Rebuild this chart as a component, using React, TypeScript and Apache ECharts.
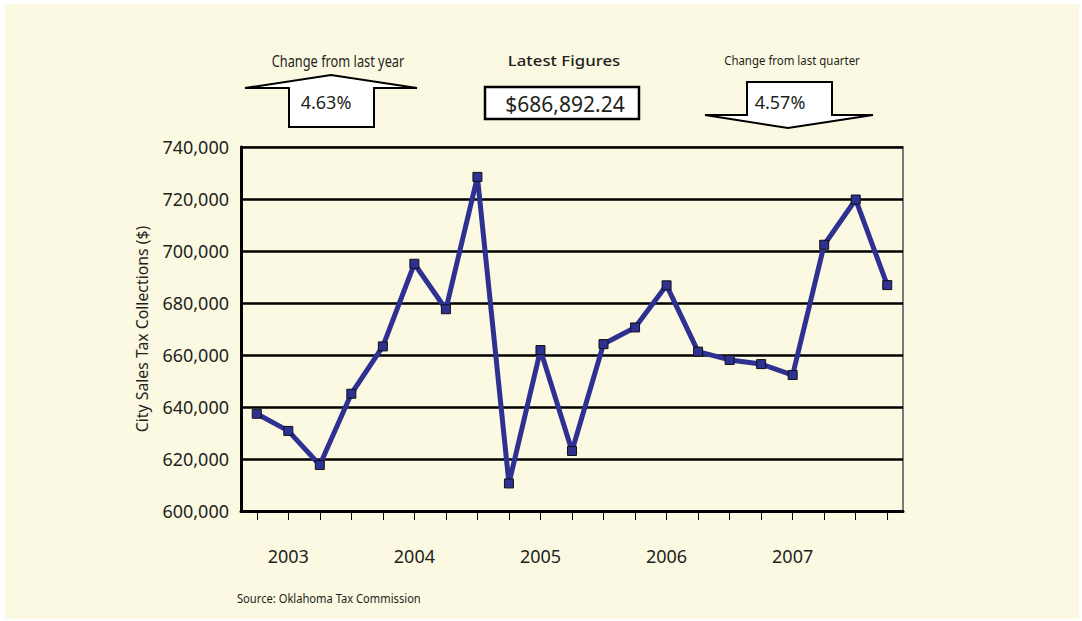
import React, { useEffect, useRef } from "react";
import * as echarts from "echarts";

const categories = [
  "2002 Q4",
  "2003 Q1", "2003 Q2", "2003 Q3", "2003 Q4",
  "2004 Q1", "2004 Q2", "2004 Q3", "2004 Q4",
  "2005 Q1", "2005 Q2", "2005 Q3", "2005 Q4",
  "2006 Q1", "2006 Q2", "2006 Q3", "2006 Q4",
  "2007 Q1", "2007 Q2", "2007 Q3", "2007 Q4",
];
const collections = [
  637400, 630800, 617700, 645100, 663300, 695100, 677600, 728500, 610600, 661900,
  623100, 664200, 670600, 686800, 661300, 658100, 656500, 652300, 702400, 719800,
  686892.24,
];
const yTicks = { min: 600000, max: 740000, interval: 20000 };
const yAxisTitle = "City Sales Tax Collections ($)";
const sourceText = "Source: Oklahoma Tax Commission";
const yearChangeLabel = "Change from last year";
const yearChangeValue = "4.63%";
const latestLabel = "Latest Figures";
const latestValue = "$686,892.24";
const quarterChangeLabel = "Change from last quarter";
const quarterChangeValue = "4.57%";

const CREAM = "#fcf9e2";
const INK = "#231f20";
const FONT = "Noto Sans";

export default function App() {
  const ref = useRef<HTMLDivElement>(null);
  useEffect(() => {
    if (!ref.current) return;
    const chart = echarts.init(ref.current, null, { renderer: "svg" });
    chart.setOption({
      animation: false,
      backgroundColor: "transparent",
      grid: {
        left: 241,
        right: 179,
        top: 147,
        bottom: 110,
        show: true,
        borderColor: "#7a7a7a",
        borderWidth: 2,
        backgroundColor: "transparent",
      },
      xAxis: {
        type: "category",
        data: categories,
        boundaryGap: true,
        axisLine: { show: true, lineStyle: { color: "#000", width: 3 } },
        axisTick: {
          show: true,
          interval: 0,
          alignWithLabel: true,
          length: 9,
          lineStyle: { color: "#000", width: 1 },
        },
        axisLabel: {
          interval: (i: number) => i % 4 === 1,
          formatter: (v: string) => v.slice(0, 4),
          color: INK,
          fontFamily: FONT,
          fontSize: 18,
          margin: 36,
        },
        splitLine: { show: false },
      },
      yAxis: {
        type: "value",
        min: yTicks.min,
        max: yTicks.max,
        interval: yTicks.interval,
        name: yAxisTitle,
        nameLocation: "middle",
        nameRotate: 90,
        nameGap: 91,
        nameTextStyle: { color: INK, fontFamily: FONT, fontSize: 15.8 },
        axisLine: { show: true, lineStyle: { color: "#000", width: 3 } },
        axisTick: { show: false },
        axisLabel: {
          color: INK,
          fontFamily: FONT,
          fontSize: 18,
          margin: 12,
          formatter: (v: number) => v.toLocaleString("en-US"),
        },
        splitLine: { show: true, lineStyle: { color: "#000", width: 2.5 } },
      },
      series: [
        {
          type: "line",
          data: collections,
          symbol: "rect",
          symbolSize: 9,
          lineStyle: { color: "#2e3192", width: 5 },
          itemStyle: { color: "#2e3192", borderColor: "#111", borderWidth: 1 },
          z: 5,
        },
      ],
      graphic: [
        {
          type: "text",
          x: 338,
          y: 61,
          scaleX: 0.8,
          style: {
            text: yearChangeLabel,
            font: `16px "${FONT}"`,
            fill: INK,
            textAlign: "center",
            textVerticalAlign: "middle",
          },
        },
        {
          type: "polygon",
          shape: {
            points: [
              [245, 88], [331, 75], [417, 88], [374, 88], [374, 127], [289, 127], [289, 88],
            ],
          },
          style: { fill: "#fff", stroke: "#000", lineWidth: 2 },
        },
        {
          type: "text",
          x: 326,
          y: 102,
          style: {
            text: yearChangeValue,
            font: `18px "${FONT}"`,
            fill: INK,
            textAlign: "center",
            textVerticalAlign: "middle",
          },
        },
        {
          type: "text",
          x: 564,
          y: 61,
          scaleX: 1.2,
          style: {
            text: latestLabel,
            font: `500 14px "${FONT}"`,
            fill: INK,
            textAlign: "center",
            textVerticalAlign: "middle",
          },
        },
        {
          type: "rect",
          shape: { x: 485, y: 87, width: 154, height: 32 },
          style: { fill: "#fff", stroke: "#000", lineWidth: 2.5 },
        },
        {
          type: "text",
          x: 565,
          y: 104,
          style: {
            text: latestValue,
            font: `21px "${FONT}"`,
            fill: INK,
            textAlign: "center",
            textVerticalAlign: "middle",
          },
        },
        {
          type: "text",
          x: 792,
          y: 60,
          scaleX: 0.88,
          style: {
            text: quarterChangeLabel,
            font: `13px "${FONT}"`,
            fill: INK,
            textAlign: "center",
            textVerticalAlign: "middle",
          },
        },
        {
          type: "polygon",
          shape: {
            points: [
              [747, 82], [832, 82], [832, 115], [873, 115], [788, 128], [705, 115], [747, 115],
            ],
          },
          style: { fill: "#fff", stroke: "#000", lineWidth: 2 },
        },
        {
          type: "text",
          x: 780,
          y: 102,
          style: {
            text: quarterChangeValue,
            font: `18px "${FONT}"`,
            fill: INK,
            textAlign: "center",
            textVerticalAlign: "middle",
          },
        },
        {
          type: "text",
          x: 237,
          y: 598,
          scaleX: 0.93,
          style: {
            text: sourceText,
            font: `12px "${FONT}"`,
            fill: INK,
            textAlign: "left",
            textVerticalAlign: "middle",
          },
        },
      ],
    });
    return () => chart.dispose();
  }, []);

  return (
    <div
      style={{
        position: "fixed",
        left: 0,
        top: 0,
        width: 1082,
        height: 621,
        background: "#ffffff",
      }}
    >
      <div
        style={{
          position: "absolute",
          left: 5,
          top: 4,
          width: 1074,
          height: 615,
          background: CREAM,
        }}
      />
      <div
        ref={ref}
        style={{ position: "absolute", left: 0, top: 0, width: 1082, height: 621 }}
      />
    </div>
  );
}
